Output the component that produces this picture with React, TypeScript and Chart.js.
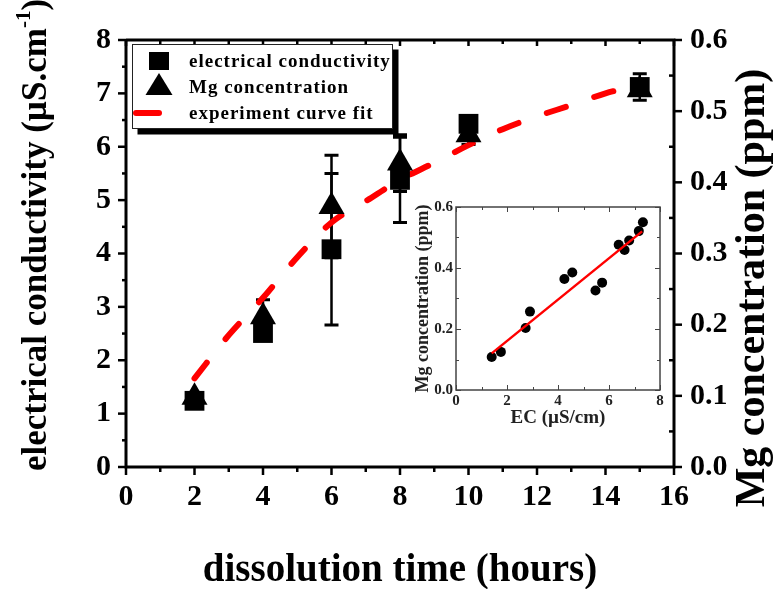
import React, { useEffect, useRef } from 'react';
import { Chart, registerables } from 'chart.js';
Chart.register(...registerables);

const FONT = "'Liberation Serif', 'Times New Roman', Times, serif";

// main chart data
const hours = [2, 4, 6, 8, 10, 15];
const ecValues = [1.24, 2.51, 4.08, 5.38, 6.43, 7.12];
const ecErrors = [0.05, 0.1, 1.42, 0.8, 0.15, 0.25];
const mgValues = [0.098, 0.211, 0.366, 0.427, 0.467, 0.53];
const mgErrors = [0.004, 0.024, 0.072, 0.04, 0.014, 0.004];
const fitHours = [2, 3, 4, 5, 6, 7, 8, 9, 10, 11, 12, 13, 14, 15];
const fitValues = [1.66, 2.47, 3.17, 3.93, 4.58, 4.98, 5.38, 5.7, 6.03, 6.33, 6.57, 6.78, 7.0, 7.16];
const xTickLabels = ['0', '2', '4', '6', '8', '10', '12', '14', '16'];
const ecTickLabels = ['0', '1', '2', '3', '4', '5', '6', '7', '8'];
const mgTickLabels = ['0.0', '0.1', '0.2', '0.3', '0.4', '0.5', '0.6'];
const legendLabels = ['electrical conductivity', 'Mg concentration', 'experiment curve fit'];

// inset data
const insetEC = [1.4, 1.76, 2.73, 2.9, 4.25, 4.56, 5.47, 5.73, 6.38, 6.61, 6.79, 7.17, 7.33];
const insetMg = [0.108, 0.125, 0.203, 0.257, 0.364, 0.385, 0.326, 0.352, 0.476, 0.459, 0.49, 0.521, 0.55];
const insetFitEC = [1.4, 7.3];
const insetFitMg = [0.12, 0.52];
const insetXLabels = ['0', '2', '4', '6', '8'];
const insetYLabels = ['0.0', '0.2', '0.4', '0.6'];

function drawErr(ctx: CanvasRenderingContext2D, xs: any, ys: any, xv: number[], v: number[], e: number[]) {
  ctx.save();
  ctx.strokeStyle = '#000';
  for (let i = 0; i < xv.length; i++) {
    const px = xs.getPixelForValue(xv[i]);
    const t = ys.getPixelForValue(v[i] + e[i]);
    const b = ys.getPixelForValue(v[i] - e[i]);
    ctx.lineWidth = 2.5;
    ctx.beginPath();
    ctx.moveTo(px, t);
    ctx.lineTo(px, b);
    ctx.stroke();
    ctx.lineWidth = 3;
    ctx.beginPath();
    ctx.moveTo(px - 7, t);
    ctx.lineTo(px + 7, t);
    ctx.moveTo(px - 7, b);
    ctx.lineTo(px + 7, b);
    ctx.stroke();
  }
  ctx.restore();
}

const mainDecor = {
  id: 'mainDecor',
  beforeDatasetsDraw(chart: any) {
    const { ctx, scales } = chart;
    drawErr(ctx, scales.x, scales.y, hours, ecValues, ecErrors);
    drawErr(ctx, scales.x, scales.y2, hours, mgValues, mgErrors);
  },
  afterDraw(chart: any) {
    const { ctx, chartArea: a, scales } = chart;
    const { x, y, y2 } = scales;
    ctx.save();
    ctx.strokeStyle = '#000';
    ctx.lineCap = 'butt';
    ctx.lineWidth = 2.5;
    for (let v = 0; v <= 16.001; v += 1) {
      const px = x.getPixelForValue(v);
      const major = Math.round(v) % 2 === 0;
      ctx.beginPath();
      ctx.moveTo(px, a.bottom);
      ctx.lineTo(px, a.bottom + (major ? 8 : 5));
      ctx.moveTo(px, a.top);
      ctx.lineTo(px, a.top + (major ? 6 : 4));
      ctx.stroke();
    }
    for (let v = 0; v <= 8.001; v += 0.5) {
      const py = y.getPixelForValue(v);
      const major = Math.abs(v - Math.round(v)) < 0.01;
      ctx.beginPath();
      ctx.moveTo(a.left, py);
      ctx.lineTo(a.left - (major ? 8 : 4), py);
      ctx.stroke();
    }
    for (let v = 0; v <= 0.6001; v += 0.05) {
      const py = y2.getPixelForValue(v);
      const major = Math.abs(v * 10 - Math.round(v * 10)) < 0.01;
      ctx.beginPath();
      if (major) {
        ctx.moveTo(a.right, py);
        ctx.lineTo(a.right + 8, py);
      } else {
        ctx.moveTo(a.right, py);
        ctx.lineTo(a.right - 5, py);
      }
      ctx.stroke();
    }
    ctx.lineWidth = 3;
    ctx.beginPath();
    ctx.moveTo(a.left, a.top);
    ctx.lineTo(a.left, a.bottom);
    ctx.lineTo(a.right, a.bottom);
    ctx.lineTo(a.right, a.top);
    ctx.lineTo(a.left, a.top);
    ctx.stroke();

    // legend
    const lx = a.left + 6, ly = 44, lw = 261, lh = 85;
    ctx.fillStyle = '#000';
    ctx.fillRect(lx + 5.5, ly + 5.5, lw, lh);
    ctx.fillStyle = '#fff';
    ctx.fillRect(lx, ly, lw, lh);
    ctx.strokeStyle = '#222';
    ctx.lineWidth = 1;
    ctx.strokeRect(lx + 0.5, ly + 0.5, lw - 1, lh - 1);
    const mx = lx + 27;
    const rows = [ly + 17, ly + 43, ly + 69];
    ctx.fillStyle = '#000';
    ctx.fillRect(mx - 10, rows[0] - 9, 20, 18);
    ctx.beginPath();
    ctx.moveTo(mx, rows[1] - 14);
    ctx.lineTo(mx + 13.5, rows[1] + 8);
    ctx.lineTo(mx - 13.5, rows[1] + 8);
    ctx.closePath();
    ctx.fill();
    ctx.strokeStyle = '#f00';
    ctx.lineWidth = 6;
    ctx.lineCap = 'round';
    ctx.beginPath();
    ctx.moveTo(lx + 4, rows[2]);
    ctx.lineTo(mx, rows[2]);
    ctx.stroke();
    ctx.fillStyle = '#000';
    ctx.font = `bold 19px ${FONT}`;
    (ctx as any).letterSpacing = '1px';
    ctx.textAlign = 'left';
    ctx.textBaseline = 'middle';
    legendLabels.forEach((t, i) => ctx.fillText(t, lx + 57, rows[i] + 1));
    (ctx as any).letterSpacing = '0px';

    // axis titles
    ctx.fillStyle = '#000';
    ctx.font = `bold 39px ${FONT}`;
    ctx.textAlign = 'center';
    ctx.textBaseline = 'middle';
    ctx.fillText('dissolution time (hours)', (a.left + a.right) / 2, 571);

    ctx.save();
    ctx.translate(37, 235);
    ctx.rotate(-Math.PI / 2);
    const main1 = 'electrical conductivity (\u00b5S.cm';
    const sup = '-1';
    const end = ')';
    ctx.font = `bold 35px ${FONT}`;
    const w1 = ctx.measureText(main1).width;
    const w3 = ctx.measureText(end).width;
    ctx.font = `bold 21px ${FONT}`;
    const w2 = ctx.measureText(sup).width;
    const sx = -(w1 + w2 + w3) / 2;
    ctx.textAlign = 'left';
    ctx.font = `bold 35px ${FONT}`;
    ctx.fillText(main1, sx, 0);
    ctx.font = `bold 21px ${FONT}`;
    ctx.fillText(sup, sx + w1, -12);
    ctx.font = `bold 35px ${FONT}`;
    ctx.fillText(end, sx + w1 + w2, 0);
    ctx.restore();

    ctx.save();
    ctx.translate(753, 288);
    ctx.rotate(-Math.PI / 2);
    ctx.font = `bold 42px ${FONT}`;
    ctx.textAlign = 'center';
    ctx.textBaseline = 'middle';
    ctx.fillText('Mg concentration (ppm)', 0, 0);
    ctx.restore();

    ctx.restore();
  },
};

const insetDecor = {
  id: 'insetDecor',
  afterDraw(chart: any) {
    const { ctx, chartArea: a, scales } = chart;
    const { x, y } = scales;
    ctx.save();
    ctx.strokeStyle = '#444';
    ctx.lineWidth = 1;
    for (let v = 0; v <= 8.001; v += 1) {
      const px = Math.round(x.getPixelForValue(v)) + 0.5;
      const len = Math.round(v) % 2 === 0 ? 5 : 3;
      ctx.beginPath();
      ctx.moveTo(px, a.bottom);
      ctx.lineTo(px, a.bottom - len);
      ctx.moveTo(px, a.top);
      ctx.lineTo(px, a.top + len);
      ctx.stroke();
    }
    for (let v = 0; v <= 0.6001; v += 0.1) {
      const py = Math.round(y.getPixelForValue(v)) + 0.5;
      const len = Math.round(v * 10) % 2 === 0 ? 5 : 3;
      ctx.beginPath();
      ctx.moveTo(a.left, py);
      ctx.lineTo(a.left + len, py);
      ctx.moveTo(a.right, py);
      ctx.lineTo(a.right - len, py);
      ctx.stroke();
    }
    ctx.lineWidth = 1.5;
    ctx.strokeRect(a.left, a.top, a.right - a.left, a.bottom - a.top);

    ctx.fillStyle = '#222';
    ctx.font = `bold 19px ${FONT}`;
    ctx.textAlign = 'center';
    ctx.textBaseline = 'middle';
    ctx.fillText('EC (\u00b5S/cm)', (a.left + a.right) / 2, a.bottom + 28);
    ctx.save();
    ctx.translate(13, (a.top + a.bottom) / 2);
    ctx.rotate(-Math.PI / 2);
    ctx.font = `bold 18px ${FONT}`;
    ctx.fillText('Mg concentration (ppm)', 0, 0);
    ctx.restore();
    ctx.restore();
  },
};

export default function App() {
  const mainRef = useRef<HTMLCanvasElement>(null);
  const insetRef = useRef<HTMLCanvasElement>(null);

  useEffect(() => {
    const tickFont = { family: FONT, size: 30, weight: 'bold' as const };
    const noGrid = { display: false, drawTicks: false, tickLength: 0 };
    const main = new Chart(mainRef.current!, {
      type: 'scatter',
      data: {
        datasets: [
          {
            label: legendLabels[0],
            data: hours.map((h, i) => ({ x: h, y: ecValues[i] })),
            yAxisID: 'y',
            pointStyle: 'rect',
            pointRadius: 14,
            backgroundColor: '#000',
            borderColor: '#000',
            borderWidth: 0,
            order: 1,
          },
          {
            label: legendLabels[1],
            data: hours.map((h, i) => ({ x: h, y: mgValues[i] })),
            yAxisID: 'y2',
            pointStyle: 'triangle',
            pointRadius: 15,
            backgroundColor: '#000',
            borderColor: '#000',
            borderWidth: 0,
            order: 2,
          },
          {
            label: legendLabels[2],
            type: 'line',
            data: fitHours.map((h, i) => ({ x: h, y: fitValues[i] })),
            yAxisID: 'y',
            borderColor: '#ff0000',
            borderWidth: 6,
            borderDash: [20, 30],
            borderCapStyle: 'round',
            pointRadius: 0,
            cubicInterpolationMode: 'monotone',
            fill: false,
            order: 3,
          } as any,
        ],
      },
      options: {
        responsive: false,
        animation: false,
        devicePixelRatio: 1,
        layout: { padding: { top: 40, left: 0, right: 0, bottom: 0 } },
        plugins: { legend: { display: false }, tooltip: { enabled: false } },
        scales: {
          x: {
            type: 'linear',
            min: 0,
            max: 16,
            position: 'bottom',
            grid: noGrid,
            border: { display: false },
            ticks: {
              stepSize: 2,
              font: tickFont,
              color: '#000',
              padding: 12,
              maxRotation: 0,
              callback: (_v: any, i: number) => xTickLabels[i],
            },
            afterFit: (s: any) => { s.height = 122; },
          },
          y: {
            type: 'linear',
            min: 0,
            max: 8,
            position: 'left',
            grid: noGrid,
            border: { display: false },
            ticks: {
              stepSize: 1,
              font: tickFont,
              color: '#000',
              padding: 15,
              callback: (_v: any, i: number) => ecTickLabels[i],
            },
            afterFit: (s: any) => { s.width = 126; },
          },
          y2: {
            type: 'linear',
            min: 0,
            max: 0.6,
            position: 'right',
            grid: noGrid,
            border: { display: false },
            ticks: {
              stepSize: 0.1,
              font: tickFont,
              color: '#000',
              padding: 16,
              callback: (_v: any, i: number) => mgTickLabels[i],
            },
            afterFit: (s: any) => { s.width = 108; },
          },
        },
      },
      plugins: [mainDecor],
    });

    const insetTick = { family: FONT, size: 15, weight: 'bold' as const };
    const inset = new Chart(insetRef.current!, {
      type: 'scatter',
      data: {
        datasets: [
          {
            type: 'line',
            data: insetFitEC.map((v, i) => ({ x: v, y: insetFitMg[i] })),
            borderColor: '#ff0000',
            borderWidth: 2.5,
            pointRadius: 0,
            fill: false,
            order: 0,
          } as any,
          {
            data: insetEC.map((v, i) => ({ x: v, y: insetMg[i] })),
            pointRadius: 5,
            pointStyle: 'circle',
            backgroundColor: '#000',
            borderColor: '#000',
            borderWidth: 0,
            order: 1,
          },
        ],
      },
      options: {
        responsive: false,
        animation: false,
        devicePixelRatio: 1,
        layout: { padding: { top: 11, right: 12, left: 0, bottom: 0 } },
        plugins: { legend: { display: false }, tooltip: { enabled: false } },
        scales: {
          x: {
            type: 'linear',
            min: 0,
            max: 8,
            grid: noGrid,
            border: { display: false },
            ticks: {
              stepSize: 2,
              font: insetTick,
              color: '#222',
              padding: 2,
              maxRotation: 0,
              callback: (_v: any, i: number) => insetXLabels[i],
            },
            afterFit: (s: any) => { s.height = 45; },
          },
          y: {
            type: 'linear',
            min: 0,
            max: 0.6,
            grid: noGrid,
            border: { display: false },
            ticks: {
              stepSize: 0.2,
              font: insetTick,
              color: '#222',
              padding: 3,
              callback: (_v: any, i: number) => insetYLabels[i],
            },
            afterFit: (s: any) => { s.width = 46; },
          },
        },
      },
      plugins: [insetDecor],
    });

    return () => {
      main.destroy();
      inset.destroy();
    };
  }, []);

  return (
    <div style={{ position: 'fixed', left: 0, top: 0, width: 782, height: 589, background: '#fff', overflow: 'hidden' }}>
      <canvas ref={mainRef} width={782} height={589} style={{ position: 'absolute', left: 0, top: 0, width: 782, height: 589 }} />
      <canvas ref={insetRef} width={262} height={240} style={{ position: 'absolute', left: 410, top: 195, width: 262, height: 240 }} />
    </div>
  );
}
